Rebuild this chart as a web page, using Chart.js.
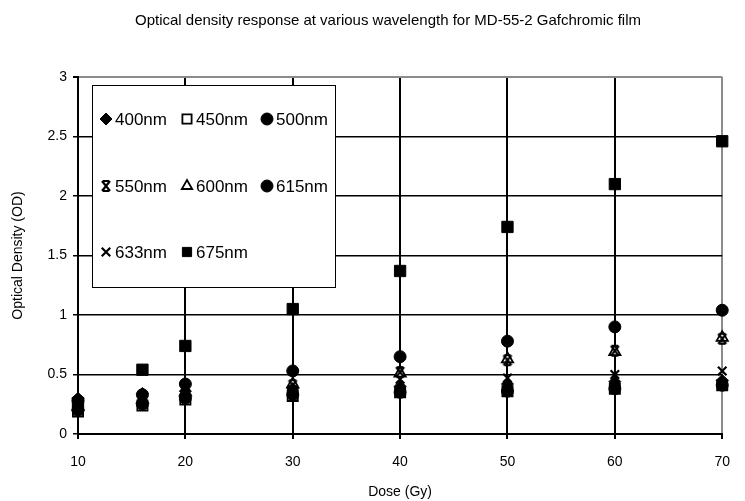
<!DOCTYPE html>
<html>
<head>
<meta charset="utf-8">
<script src="https://cdn.jsdelivr.net/npm/chart.js@4/dist/chart.umd.min.js"></script>
<style>
  html, body { margin: 0; padding: 0; background: #fff; }
  #wrap { width: 745px; height: 501px; }
</style>
</head>
<body>
<div id="wrap"><canvas id="od-chart" width="745" height="501"></canvas></div>
<script>
/* Optical density vs dose, one scatter series per wavelength */

const doses  = [10, 16, 20, 30, 40, 50, 60, 70];
const od400  = [0.30, 0.34, 0.36, 0.38, 0.40, 0.42, 0.44, 0.45];
const od450  = [0.19, 0.24, 0.29, 0.32, 0.35, 0.36, 0.38, 0.41];
const od500  = [0.20, 0.25, 0.30, 0.33, 0.35, 0.36, 0.38, 0.41];
const od550  = [0.22, 0.28, 0.34, 0.41, 0.52, 0.62, 0.70, 0.80];
const od600  = [0.23, 0.29, 0.35, 0.42, 0.51, 0.63, 0.69, 0.81];
const od615  = [0.28, 0.33, 0.42, 0.53, 0.65, 0.78, 0.90, 1.04];
const od633  = [0.20, 0.26, 0.31, 0.37, 0.46, 0.47, 0.50, 0.53];
const od675  = [0.26, 0.54, 0.74, 1.05, 1.37, 1.74, 2.10, 2.46];

const wavelengths = ['400nm', '450nm', '500nm', '550nm', '600nm', '615nm', '633nm', '675nm'];
const seriesValues = [od400, od450, od500, od550, od600, od615, od633, od675];

const FONT = "'Liberation Sans', Arial, sans-serif";

// Excel-style "star" marker: an X with short bars across its top and bottom
function starMarker() {
  const c = document.createElement('canvas');
  c.width = 14; c.height = 14;
  const g = c.getContext('2d');
  g.strokeStyle = '#000';
  g.lineWidth = 2.2;
  g.beginPath();
  g.moveTo(3, 2); g.lineTo(11, 12);
  g.moveTo(11, 2); g.lineTo(3, 12);
  g.moveTo(4, 2); g.lineTo(10, 2);
  g.moveTo(4, 12); g.lineTo(10, 12);
  g.stroke();
  return c;
}

const markers = [
  { pointStyle: 'rectRot',  radius: 6,   fill: '#000', border: 1 },
  { pointStyle: 'rect',     radius: 7.2, fill: '#fff', border: 1.8 },
  { pointStyle: 'circle',   radius: 6,   fill: '#000', border: 1 },
  { pointStyle: starMarker(), radius: 7, fill: '#000', border: 0 },
  { pointStyle: 'triangle', radius: 6.5, fill: '#fff', border: 1.8 },
  { pointStyle: 'circle',   radius: 6,   fill: '#000', border: 1 },
  { pointStyle: 'crossRot', radius: 6,   fill: '#000', border: 2.2 },
  { pointStyle: 'rect',     radius: 8,   fill: '#000', border: 1 },
];

// open markers go underneath, filled ones on top
const drawOrder = [3, 8, 4, 2, 7, 1, 0, 0];

const datasets = wavelengths.map((label, i) => ({
  label,
  data: doses.map((d, j) => ({ x: d, y: seriesValues[i][j] })),
  showLine: false,
  pointStyle: markers[i].pointStyle,
  pointRadius: markers[i].radius,
  pointHoverRadius: markers[i].radius,
  pointBackgroundColor: markers[i].fill,
  pointBorderColor: '#000',
  pointBorderWidth: markers[i].border,
  order: drawOrder[i],
  clip: false,
}));

// Title above the plot
const titlePlugin = {
  id: 'odTitle',
  afterDraw(chart) {
    const ctx = chart.ctx;
    ctx.save();
    ctx.fillStyle = '#000';
    ctx.font = '15px ' + FONT;
    ctx.textAlign = 'center';
    ctx.textBaseline = 'middle';
    ctx.fillText('Optical density response at various wavelength for MD-55-2 Gafchromic film', 388, 21);
    ctx.restore();
  }
};

// Boxed legend sitting inside the plot, three entries per row
const legendPlugin = {
  id: 'odLegend',
  afterDraw(chart) {
    const ctx = chart.ctx;
    const box = { x: 92, y: 85, w: 243, h: 202 };
    const colX = [106, 187, 267];
    const rowY = [119, 186, 252];
    ctx.save();
    ctx.fillStyle = '#fff';
    ctx.fillRect(box.x, box.y, box.w, box.h);
    ctx.strokeStyle = '#000';
    ctx.lineWidth = 1;
    ctx.strokeRect(box.x + 0.5, box.y + 0.5, box.w, box.h);
    ctx.font = '17px ' + FONT;
    ctx.textBaseline = 'middle';
    wavelengths.forEach((label, i) => {
      const cx = colX[i % 3];
      const cy = rowY[Math.floor(i / 3)];
      const m = markers[i];
      ctx.fillStyle = m.fill;
      ctx.strokeStyle = '#000';
      ctx.lineWidth = m.border;
      Chart.helpers.drawPoint(ctx, {
        pointStyle: m.pointStyle,
        radius: m.pointStyle === 'rect' ? 6.5 : Math.min(m.radius, 6),
        rotation: 0,
        borderWidth: m.border,
      }, cx, cy);
      ctx.fillStyle = '#000';
      ctx.textAlign = 'left';
      ctx.fillText(label, cx + 9, cy + 1);
    });
    ctx.restore();
  }
};

new Chart(document.getElementById('od-chart'), {
  type: 'scatter',
  data: { datasets },
  options: {
    responsive: false,
    devicePixelRatio: 1,
    animation: false,
    layout: { padding: { top: 77, right: 13, left: 0, bottom: 0 } },
    plugins: {
      legend: { display: false },
      title: { display: false },
      tooltip: { enabled: false },
    },
    scales: {
      x: {
        type: 'linear',
        min: 10,
        max: 70,
        afterFit(scale) { scale.height = 67; },
        ticks: {
          stepSize: 10,
          color: '#000',
          font: { family: FONT, size: 14 },
          padding: 15,
          maxRotation: 0,
        },
        grid: {
          color: c => (c.tick && c.tick.value === 70 ? '#8c8c8c' : '#000'),
          lineWidth: 2,
          tickLength: 5,
          tickColor: '#000',
        },
        border: { color: '#000', width: 2 },
        title: {
          display: true,
          text: 'Dose (Gy)',
          color: '#000',
          font: { family: FONT, size: 14 },
          padding: { top: 0, bottom: 0 },
        },
      },
      y: {
        min: 0,
        max: 3,
        afterFit(scale) { scale.width = 78; },
        ticks: {
          stepSize: 0.5,
          color: '#000',
          font: { family: FONT, size: 14 },
          padding: 6,
          callback: v => String(v),
        },
        grid: {
          color: c => (c.tick && c.tick.value === 3 ? '#8c8c8c' : '#000'),
          lineWidth: c => (c.tick && c.tick.value === 3 ? 2 : 1.5),
          tickLength: 5,
          tickColor: '#000',
        },
        border: { color: '#000', width: 2 },
        title: {
          display: true,
          text: 'Optical Density (OD)',
          color: '#000',
          font: { family: FONT, size: 14 },
          padding: { top: 10, bottom: 0 },
        },
      },
    },
  },
  plugins: [titlePlugin, legendPlugin],
});
</script>
</body>
</html>
